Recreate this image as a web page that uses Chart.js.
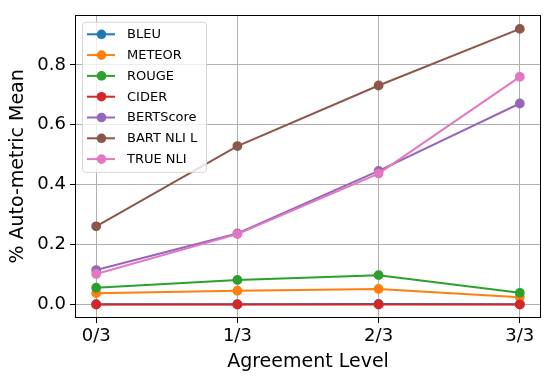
<!DOCTYPE html>
<html>
<head>
<meta charset="utf-8">
<script src="https://cdn.jsdelivr.net/npm/chart.js@4/dist/chart.umd.min.js"></script>
<style>
  html, body { margin: 0; padding: 0; background: #ffffff; }
  #wrap { width: 550px; height: 381px; position: relative; }
</style>
</head>
<body>
<div id="wrap"><canvas id="c" width="550" height="381"></canvas></div>
<script>
// ---- Data ----
const categories = ["0/3", "1/3", "2/3", "3/3"];
const yTicks = [0.0, 0.2, 0.4, 0.6, 0.8];
const seriesNames = ["BLEU", "METEOR", "ROUGE", "CIDER", "BERTScore", "BART NLI L", "TRUE NLI"];
const bleu      = [0.001, 0.001, 0.002, 0.001];
const meteor    = [0.038, 0.046, 0.052, 0.024];
const rouge     = [0.056, 0.082, 0.098, 0.039];
const cider     = [0.000, 0.000, 0.000, 0.000];
const bertscore = [0.115, 0.237, 0.446, 0.671];
const bartNliL  = [0.261, 0.529, 0.731, 0.920];
const trueNli   = [0.102, 0.235, 0.437, 0.760];
const colors = ["#1f77b4", "#ff7f0e", "#2ca02c", "#d62728", "#9467bd", "#8c564b", "#e377c2"];

const seriesValues = [bleu, meteor, rouge, cider, bertscore, bartNliL, trueNli];
const FONT = "'DejaVu Sans', 'Liberation Sans', sans-serif";

const datasets = seriesValues.map((vals, i) => ({
  label: seriesNames[i],
  data: vals.map((v, k) => ({ x: k, y: v })),
  borderColor: colors[i],
  backgroundColor: colors[i],
  pointBackgroundColor: colors[i],
  pointBorderColor: colors[i],
  borderWidth: 2,
  pointRadius: 4.2,
  pointBorderWidth: 1.4,
  pointHoverRadius: 4.2,
  tension: 0,
  fill: false,
  order: seriesValues.length - i
}));

const framePlugin = {
  id: 'frame',
  afterDatasetsDraw(chart) {
    const a = chart.chartArea, ctx = chart.ctx;
    ctx.save();
    ctx.strokeStyle = '#000';
    ctx.lineWidth = 1;
    ctx.strokeRect(Math.round(a.left) + 0.5, Math.round(a.top) + 0.5,
                   Math.round(a.right - a.left) - 1, Math.round(a.bottom - a.top) - 1);
    ctx.restore();
  }
};

const legendPlugin = {
  id: 'mplLegend',
  afterDraw(chart) {
    const ctx = chart.ctx, a = chart.chartArea;
    const ds = chart.data.datasets;
    const x0 = a.left + 7.5, y0 = a.top + 7.5, w = 124, h = 150, r = 3;
    ctx.save();
    ctx.globalAlpha = 0.8;
    ctx.fillStyle = '#ffffff';
    ctx.beginPath();
    ctx.roundRect(x0, y0, w, h, r);
    ctx.fill();
    ctx.globalAlpha = 1;
    ctx.strokeStyle = '#d6d6d6';
    ctx.lineWidth = 1;
    ctx.stroke();
    ctx.font = '13px ' + FONT;
    ctx.textBaseline = 'middle';
    ctx.textAlign = 'left';
    ds.forEach((d, i) => {
      const yy = y0 + 12 + i * 20.8;
      ctx.strokeStyle = d.borderColor;
      ctx.lineWidth = 2;
      ctx.beginPath();
      ctx.moveTo(x0 + 4.5, yy);
      ctx.lineTo(x0 + 32.5, yy);
      ctx.stroke();
      ctx.fillStyle = d.borderColor;
      ctx.beginPath();
      ctx.arc(x0 + 19, yy, 4.8, 0, Math.PI * 2);
      ctx.fill();
      ctx.fillStyle = '#000';
      ctx.fillText(d.label, x0 + 44.5, yy + 0.5);
    });
    ctx.restore();
  }
};

new Chart(document.getElementById('c'), {
  type: 'line',
  data: { datasets },
  options: {
    responsive: false,
    animation: false,
    devicePixelRatio: 1,
    layout: { padding: { top: 10, right: 9, left: 0, bottom: 0 } },
    plugins: { legend: { display: false }, tooltip: { enabled: false } },
    scales: {
      x: {
        type: 'linear',
        min: -0.15,
        max: 3.15,
        afterBuildTicks(scale) { scale.ticks = categories.map((c, i) => ({ value: i })); },
        afterFit(scale) { scale.height = 63; },
        ticks: {
          callback: (v) => categories[v],
          color: '#000',
          font: { family: FONT, size: 18 },
          padding: 3,
          maxRotation: 0,
          autoSkip: false
        },
        grid: { color: '#b0b0b0', lineWidth: 1, drawTicks: true, tickLength: 5, tickColor: '#000', tickWidth: 1 },
        border: { display: false },
        title: {
          display: true,
          text: 'Agreement Level',
          color: '#000',
          font: { family: FONT, size: 19 },
          padding: { top: 8, bottom: 8 }
        }
      },
      y: {
        type: 'linear',
        min: -0.045,
        max: 0.967,
        afterBuildTicks(scale) { scale.ticks = yTicks.map(v => ({ value: v })); },
        afterFit(scale) { scale.width = 75; },
        ticks: {
          callback: (v) => Number(v).toFixed(1),
          color: '#000',
          font: { family: FONT, size: 18 },
          padding: 4
        },
        grid: { color: '#b0b0b0', lineWidth: 1, drawTicks: true, tickLength: 5, tickColor: '#000', tickWidth: 1 },
        border: { display: false },
        title: {
          display: true,
          text: '% Auto-metric Mean',
          color: '#000',
          font: { family: FONT, size: 19 },
          padding: { top: 7, bottom: 7 }
        }
      }
    }
  },
  plugins: [framePlugin, legendPlugin]
});
</script>
</body>
</html>
